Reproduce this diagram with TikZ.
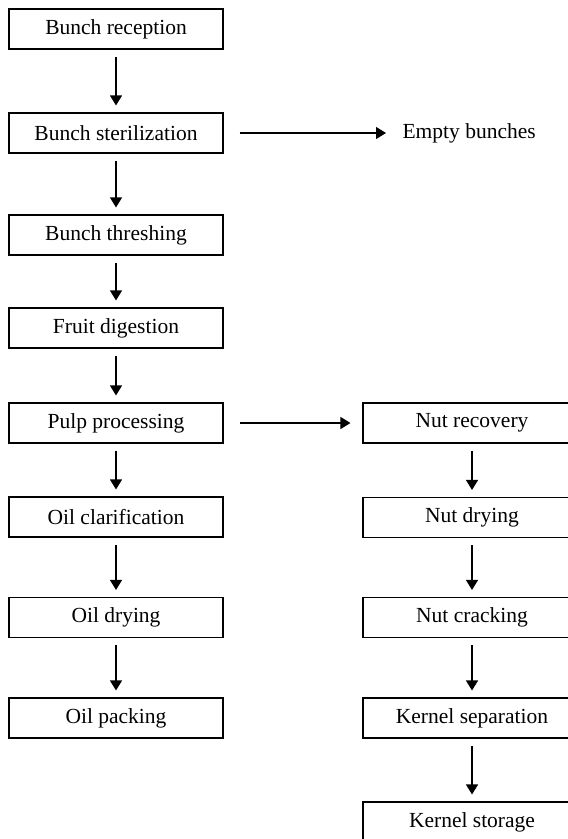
\documentclass[tikz,border=0pt]{standalone}
\usepackage{fontspec}
\setmainfont{Liberation Serif}
\usetikzlibrary{arrows.meta}
\begin{document}
\begin{tikzpicture}[x=1pt,y=-1pt,
  font=\fontsize{21.5}{24}\selectfont,
  line width=1.1pt,
  stepbox/.style={draw, minimum width=214pt, minimum height=40pt, inner sep=0pt},
  widebox/.style={stepbox, minimum width=218pt},
  flow/.style={-{Triangle[length=10pt,width=12pt]}, line width=1.1pt,
               shorten <=7pt, shorten >=7pt}]
\useasboundingbox (0,0) rectangle (568,839);
\clip (0,0) rectangle (568,839);
% main oil line
\node[stepbox] (rec)  at (116,29)    {Bunch reception};
\node[stepbox] (ster) at (116,133)   {Bunch sterilization};
\node[stepbox] (thr)  at (116,235)   {Bunch threshing};
\node[stepbox] (dig)  at (116,328)   {Fruit digestion};
\node[stepbox] (pulp) at (116,423)   {Pulp processing};
\node[stepbox] (clar) at (116,517)   {Oil clarification};
\node[stepbox] (dry)  at (116,617.5) {Oil drying};
\node[stepbox] (pack) at (116,718)   {Oil packing};
% by-product
\node[inner sep=0pt, anchor=west] (eb) at (402,133) {Empty bunches};
% kernel line
\node[widebox] (nrec)  at (472,423)   {Nut recovery};
\node[widebox] (ndry)  at (472,517.5) {Nut drying};
\node[widebox] (ncrk)  at (472,617.5) {Nut cracking};
\node[widebox] (ksep)  at (472,718)   {Kernel separation};
\node[widebox] (kst)   at (472,822)   {Kernel storage};
% connectors
\draw[flow] (rec) -- (ster);
\draw[flow] (ster) -- (thr);
\draw[flow] (thr) -- (dig);
\draw[flow] (dig) -- (pulp);
\draw[flow] (pulp) -- (clar);
\draw[flow] (clar) -- (dry);
\draw[flow] (dry) -- (pack);
\draw[flow, shorten <=16pt, shorten >=16pt] (ster) -- (eb);
\draw[flow, shorten <=16pt, shorten >=12pt] (pulp) -- (nrec);
\draw[flow] (nrec) -- (ndry);
\draw[flow] (ndry) -- (ncrk);
\draw[flow] (ncrk) -- (ksep);
\draw[flow] (ksep) -- (kst);
\end{tikzpicture}
\end{document}
